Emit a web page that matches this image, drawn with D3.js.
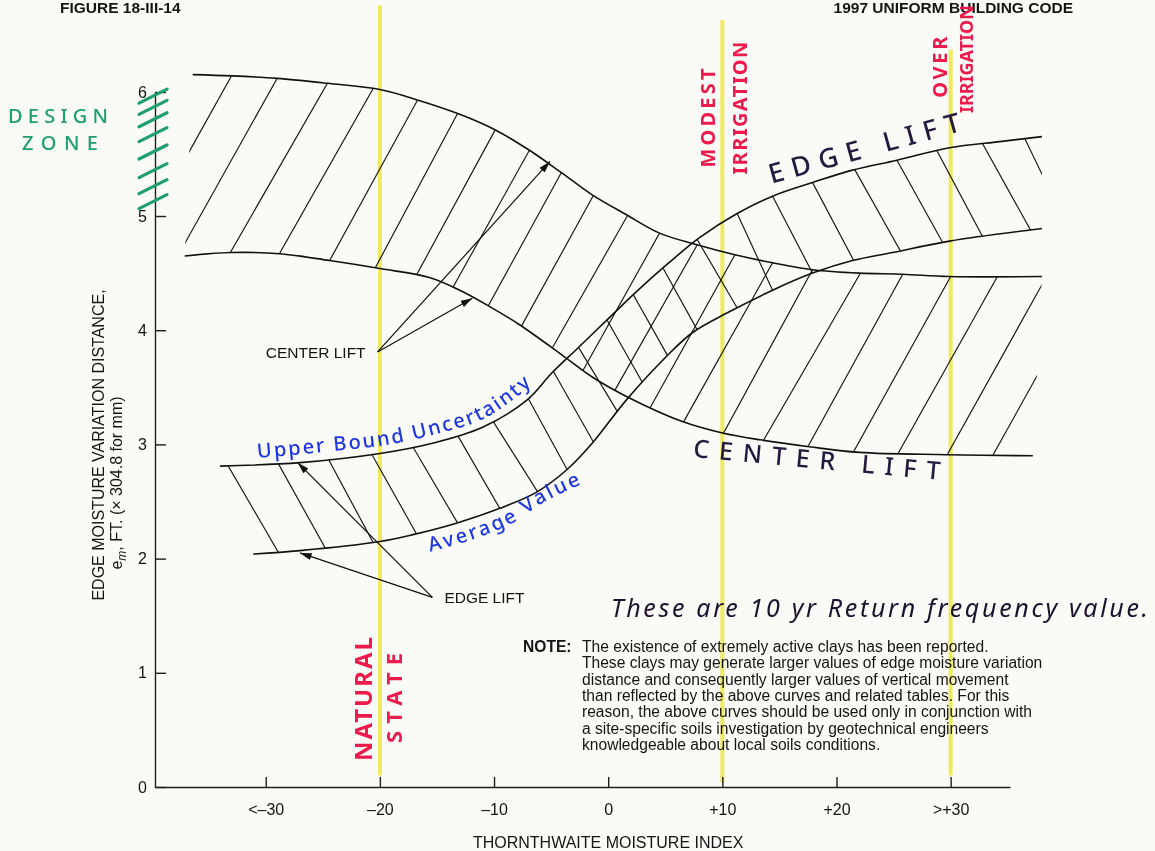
<!DOCTYPE html>
<html>
<head>
<meta charset="utf-8">
<script src="https://cdn.jsdelivr.net/npm/d3@7"></script>
<style>
  html, body { margin: 0; padding: 0; background: #fafaf6; }
  svg { display: block; }
  .print { font-family: "Liberation Sans", Arial, Helvetica, sans-serif; fill: #141414; }
  .hand { font-family: "Noto Sans", "DejaVu Sans", sans-serif; }
</style>
</head>
<body>
<svg id="chart" width="1155" height="851"></svg>
<script>
// ---- Axis ticks -------------------------------------------------------
const xTicks = [-30, -20, -10, 0, 10, 20, 30];
const xTickLabels = ["<\u201330", "\u201320", "\u201310", "0", "+10", "+20", ">+30"];
const yTicks = [0, 1, 2, 3, 4, 5, 6];

// ---- Center lift band: [Thornthwaite index, e_m (ft)] ------------------
const centerLiftUpper = [
  [-36.4, 6.14], [-33.0, 6.13], [-29.0, 6.11], [-24.6, 6.07], [-20.0, 6.02],
  [-16.5, 5.93], [-13.0, 5.82], [-9.8, 5.69], [-6.9, 5.53], [-4.1, 5.35],
  [-1.4, 5.17], [1.6, 5.01], [4.5, 4.85], [7.7, 4.75], [11.1, 4.66],
  [14.4, 4.59], [17.9, 4.53], [22.0, 4.50], [25.8, 4.49], [29.9, 4.47], [38.0, 4.47]
];
const centerLiftLower = [
  [-37.1, 4.65], [-33.1, 4.68], [-28.8, 4.67], [-24.4, 4.61], [-20.0, 4.54],
  [-15.6, 4.46], [-13.0, 4.35], [-10.6, 4.22], [-7.8, 4.05], [-4.0, 3.78],
  [-1.4, 3.59], [1.6, 3.42], [6.5, 3.20], [10.0, 3.10], [13.3, 3.04],
  [17.6, 2.98], [22.0, 2.93], [29.6, 2.91], [37.2, 2.90]
];

// ---- Edge lift band ---------------------------------------------------
const edgeLiftUpper = [
  [-34.0, 2.81], [-27.0, 2.84], [-20.0, 2.92], [-15.4, 3.01], [-11.0, 3.15],
  [-7.1, 3.39], [-4.9, 3.63], [-2.7, 3.84], [-0.1, 4.09], [2.5, 4.34],
  [5.2, 4.58], [8.0, 4.81], [11.3, 5.02], [14.4, 5.16], [17.9, 5.27],
  [21.4, 5.37], [25.3, 5.45], [29.9, 5.55], [34.3, 5.60], [38.0, 5.64]
];
const edgeLiftLower = [
  [-31.1, 2.04], [-27.0, 2.07], [-20.0, 2.15], [-17.1, 2.21], [-13.3, 2.31],
  [-9.5, 2.44], [-6.3, 2.58], [-3.6, 2.78], [-1.4, 3.01], [1.6, 3.39],
  [5.1, 3.77], [7.4, 3.98], [10.4, 4.15], [14.4, 4.35], [17.9, 4.50],
  [21.4, 4.61], [24.9, 4.68], [29.9, 4.78], [38.0, 4.89]
];

// Hatch strokes: [x on lower curve, x on upper curve] for the center lift band
const centerLiftHatch = [
  [-41.8, -33.0], [-37.7, -29.0], [-33.1, -24.6], [-28.8, -20.6], [-24.4, -16.7],
  [-20.4, -13.2], [-16.8, -9.9], [-13.6, -6.9], [-10.5, -4.1], [-7.6, -1.3],
  [-4.9, 1.7], [-2.2, 4.5], [0.6, 7.8], [3.7, 11.1], [6.6, 14.4],
  [10.1, 17.9], [13.6, 22.1], [17.5, 25.8], [21.5, 30.0], [25.4, 34.1],
  [29.7, 38.4], [33.7, 42.4]
];
// [x on upper curve, x on lower curve] for the edge lift band
const edgeLiftHatch = [
  [-33.3, -28.9], [-28.9, -24.8], [-24.5, -20.6], [-20.7, -16.8], [-17.1, -13.2],
  [-13.2, -9.5], [-10.1, -6.2], [-7.0, -3.6], [-4.8, -1.3], [-2.6, 0.8],
  [-0.1, 3.0], [2.2, 5.2], [4.8, 7.8], [7.8, 11.3], [11.3, 14.4],
  [14.4, 17.9], [17.9, 21.5], [21.6, 25.6], [25.3, 29.3], [28.8, 32.8],
  [32.8, 37.0], [36.5, 40.3]
];

// Leader arrows: label anchor -> curve
const centerLiftArrowFrom = [-20.2, 3.81];
const centerLiftArrowTo = [[-5.1, 5.44], [-11.9, 4.28]];
const edgeLiftArrowFrom = [-15.4, 1.66];
const edgeLiftArrowTo = [[-27.2, 2.84], [-27.0, 2.05]];

// Highlighted index lines and the marked design zone
const markedIndex = [
  { x: -20, y0: 0.10, y1: 6.70 },
  { x: 10, y0: 0.04, y1: 6.58 },
  { x: 30, y0: 0.10, y1: 6.34 }
];
const designZoneMarks = [5.91, 5.82, 5.72, 5.60, 5.46, 5.31, 5.18, 5.06];

// Baselines for the hand-written curve labels
const upperBoundLabelPath = [[-30.7, 2.88], [-25.2, 2.93], [-19.1, 3.00], [-14.7, 3.10], [-11.2, 3.21], [-8.6, 3.37], [-6.4, 3.55]];
const averageLabelPath = [[-15.6, 2.06], [-12.1, 2.16], [-8.4, 2.31], [-5.5, 2.50], [-2.4, 2.65]];

const noteLines = [
  "The existence of extremely active clays has been reported.",
  "These clays may generate larger values of edge moisture variation",
  "distance and consequently larger values of vertical movement",
  "than reflected by the above curves and related tables. For this",
  "reason, the above curves should be used only in conjunction with",
  "a site-specific soils investigation by geotechnical engineers",
  "knowledgeable about local soils conditions."
];

// ---- Scales -----------------------------------------------------------
const x = d3.scaleLinear().domain([-39.7, 35.2]).range([155, 1010]);
const y = d3.scaleLinear().domain([0, 5, 6]).range([787, 216, 92]);

const svg = d3.select("#chart");
const defs = svg.append("defs");

defs.append("marker")
  .attr("id", "arrowhead")
  .attr("viewBox", "0 0 10 6")
  .attr("refX", 10).attr("refY", 3)
  .attr("markerWidth", 12).attr("markerHeight", 7)
  .attr("markerUnits", "userSpaceOnUse")
  .attr("orient", "auto")
  .append("path").attr("d", "M0,0L10,3L0,6Z").attr("fill", "#111");

const curve = d3.line()
  .x(d => x(d[0])).y(d => y(d[1]))
  .curve(d3.curveCatmullRom.alpha(0.5));

function bandOutline(upper, lower) {
  const top = curve(upper);
  const bottom = curve(lower.slice().reverse());
  return top + "L" + bottom.slice(1) + "Z";
}

function valueAt(pts, xv) {
  const n = pts.length;
  if (xv <= pts[0][0]) return pts[0][1];
  if (xv >= pts[n - 1][0]) return pts[n - 1][1];
  const i = d3.bisector(d => d[0]).right(pts, xv);
  const a = pts[i - 1], b = pts[i];
  const t = (xv - a[0]) / (b[0] - a[0]);
  return a[1] + t * (b[1] - a[1]);
}

defs.append("clipPath").attr("id", "clip-center")
  .append("path").attr("d", bandOutline(centerLiftUpper, centerLiftLower));
defs.append("clipPath").attr("id", "clip-edge")
  .append("path").attr("d", bandOutline(edgeLiftUpper, edgeLiftLower));

// ---- Hatching ---------------------------------------------------------
function drawHatch(pairs, fromCurve, toCurve, clipId) {
  svg.append("g")
    .attr("clip-path", `url(#${clipId})`)
    .attr("stroke", "#141414").attr("stroke-width", 1.15)
    .selectAll("line").data(pairs).join("line")
    .each(function ([xa, xb]) {
      const x1 = x(xa), y1 = y(valueAt(fromCurve, xa));
      const x2 = x(xb), y2 = y(valueAt(toCurve, xb));
      const dx = x2 - x1, dy = y2 - y1, e = 14 / Math.hypot(dx, dy);
      d3.select(this)
        .attr("x1", x1 - dx * e).attr("y1", y1 - dy * e)
        .attr("x2", x2 + dx * e).attr("y2", y2 + dy * e);
    });
}
drawHatch(centerLiftHatch, centerLiftLower, centerLiftUpper, "clip-center");
drawHatch(edgeLiftHatch, edgeLiftUpper, edgeLiftLower, "clip-edge");

// ---- Band boundary curves --------------------------------------------
svg.append("g")
  .attr("fill", "none").attr("stroke", "#111").attr("stroke-width", 1.6)
  .selectAll("path")
  .data([centerLiftUpper, centerLiftLower, edgeLiftUpper, edgeLiftLower])
  .join("path").attr("d", curve);

// ---- Axes -------------------------------------------------------------
const xAxis = d3.axisBottom(x)
  .tickValues(xTicks)
  .tickFormat((d, i) => xTickLabels[i])
  .tickSizeInner(-10).tickSizeOuter(0).tickPadding(17);
const yAxis = d3.axisLeft(y)
  .tickValues(yTicks)
  .tickFormat(d3.format("d"))
  .tickSizeInner(-11).tickSizeOuter(0).tickPadding(8);

const gx = svg.append("g").attr("transform", `translate(0,${y(0)})`).call(xAxis);
const gy = svg.append("g").attr("transform", `translate(${x(-39.7)},0)`).call(yAxis);
[gx, gy].forEach(g => {
  g.attr("font-family", null).attr("font-size", null);
  g.selectAll("path, line").attr("stroke", "#1e1e1e").attr("stroke-width", 1.4);
  g.selectAll("text").attr("class", "print").attr("font-size", 16).attr("fill", "#141414");
});

svg.append("text").attr("class", "print")
  .attr("x", x(0)).attr("y", 848).attr("text-anchor", "middle").attr("font-size", 16)
  .text("THORNTHWAITE MOISTURE INDEX");

svg.append("text").attr("class", "print")
  .attr("transform", "translate(104,445) rotate(-90)")
  .attr("text-anchor", "middle").attr("font-size", 16)
  .text("EDGE MOISTURE VARIATION DISTANCE,");
const yl2 = svg.append("text").attr("class", "print")
  .attr("transform", "translate(122,483) rotate(-90)")
  .attr("text-anchor", "middle").attr("font-size", 16);
yl2.append("tspan").text("e");
yl2.append("tspan").attr("font-size", 12).attr("font-style", "italic").attr("dy", 4).text("m");
yl2.append("tspan").attr("dy", -4).text(", FT. (\u00d7 304.8 for mm)");

// ---- Headers ----------------------------------------------------------
svg.append("text").attr("class", "print").attr("font-weight", "bold").attr("font-size", 15.5)
  .attr("x", 60).attr("y", 12.5).text("FIGURE 18-III-14");
svg.append("text").attr("class", "print").attr("font-weight", "bold").attr("font-size", 15.5)
  .attr("x", 1073).attr("y", 12.5).attr("text-anchor", "end").text("1997 UNIFORM BUILDING CODE");

// ---- Printed leader labels -------------------------------------------
function arrows(from, targets) {
  svg.append("g").attr("stroke", "#111").attr("stroke-width", 1.2)
    .selectAll("line").data(targets).join("line")
    .attr("x1", x(from[0])).attr("y1", y(from[1]))
    .attr("x2", d => x(d[0])).attr("y2", d => y(d[1]))
    .attr("marker-end", "url(#arrowhead)");
}
arrows(centerLiftArrowFrom, centerLiftArrowTo);
arrows(edgeLiftArrowFrom, edgeLiftArrowTo);

svg.append("text").attr("class", "print").attr("font-size", 15.5)
  .attr("x", x(centerLiftArrowFrom[0]) - 12).attr("y", y(centerLiftArrowFrom[1]) + 6)
  .attr("text-anchor", "end").text("CENTER LIFT");
svg.append("text").attr("class", "print").attr("font-size", 15.5)
  .attr("x", x(edgeLiftArrowFrom[0]) + 12).attr("y", y(edgeLiftArrowFrom[1]) + 6)
  .text("EDGE LIFT");

// ---- Note -------------------------------------------------------------
const note = svg.append("g").attr("class", "print").attr("font-size", 15.6);
note.append("text").attr("x", 523).attr("y", 652).attr("font-weight", "bold").text("NOTE:");
note.selectAll("text.line").data(noteLines).join("text").attr("class", "line print")
  .attr("x", 582).attr("y", (d, i) => 652 + i * 16.3).text(d => d);

// ---- Hand-written annotations ----------------------------------------
const ink = { red: "#ec1b4c", green: "#1f9f6e", blue: "#1c36e2", dark: "#24193f" };

function handText(opts) {
  const t = svg.append("text").attr("class", "hand")
    .attr("transform", `translate(${opts.px},${opts.py}) rotate(${opts.rot || 0})`)
    .attr("fill", opts.color).attr("font-size", opts.size)
    .attr("font-weight", opts.weight || 600)
    .attr("text-anchor", opts.anchor || "start")
    .text(opts.text);
  if (opts.len) t.attr("textLength", opts.len).attr("lengthAdjust", "spacing");
  if (opts.italic) t.attr("font-style", "italic");
  return t;
}

// design zone ticks on the e_m axis
svg.append("g").attr("stroke", ink.green).attr("stroke-width", 3.2).attr("stroke-linecap", "round")
  .selectAll("line").data(designZoneMarks).join("line")
  .attr("x1", x(-41.1)).attr("y1", d => y(d))
  .attr("x2", x(-41.1) + 28).attr("y2", d => y(d) - 14);
handText({ text: "DESIGN", px: 8, py: 123, size: 20, color: ink.green, len: 100, weight: 500 });
handText({ text: "ZONE", px: 22, py: 150, size: 20, color: ink.green, len: 76, weight: 500 });

// highlighted index lines
svg.append("g").style("mix-blend-mode", "multiply")
  .selectAll("line").data(markedIndex).join("line")
  .attr("x1", d => x(d.x)).attr("x2", d => x(d.x))
  .attr("y1", d => y(d.y1)).attr("y2", d => y(d.y0))
  .attr("stroke", "#f4ee50").attr("stroke-width", 4).attr("stroke-opacity", 0.9);

handText({ text: "NATURAL", px: x(-20.7), py: y(0.77), rot: -90, anchor: "middle", size: 24, color: ink.red, len: 124, weight: 700 });
handText({ text: "STATE", px: x(-18.05), py: y(0.78), rot: -90, anchor: "middle", size: 22, color: ink.red, len: 90, weight: 700 });
handText({ text: "MODEST", px: x(9.35), py: y(5.79), rot: -90, anchor: "middle", size: 20, color: ink.red, len: 99, weight: 700 });
handText({ text: "IRRIGATION", px: x(12.15), py: y(5.87), rot: -90, anchor: "middle", size: 20, color: ink.red, len: 133, weight: 700 });
handText({ text: "OVER", px: x(29.65), py: y(6.2), rot: -90, anchor: "middle", size: 20, color: ink.red, len: 61, weight: 700 });
handText({ text: "IRRIGATION", px: x(31.95), py: y(5.83), rot: -90, anchor: "start", size: 18, color: ink.red, len: 108, weight: 700 });

handText({ text: "EDGE LIFT", px: x(14.3), py: y(5.26), rot: -15.5, size: 27, color: ink.dark, len: 198, weight: 500 });
handText({ text: "CENTER LIFT", px: x(7.4), py: y(2.89), rot: 5.3, size: 25, color: ink.dark, len: 248, weight: 500 });

// curve labels following the band edges
defs.append("path").attr("id", "upper-bound-path").attr("d", curve(upperBoundLabelPath));
defs.append("path").attr("id", "average-path").attr("d", curve(averageLabelPath));
svg.append("text").attr("class", "hand").attr("fill", ink.blue).attr("font-size", 20)
  .attr("font-weight", 500).attr("letter-spacing", 2)
  .append("textPath").attr("href", "#upper-bound-path").text("Upper Bound Uncertainty");
svg.append("text").attr("class", "hand").attr("fill", ink.blue).attr("font-size", 20)
  .attr("font-weight", 500).attr("letter-spacing", 2.5)
  .append("textPath").attr("href", "#average-path").text("Average Value");

handText({ text: "These are 10 yr Return frequency value.", px: 611, py: 617, size: 25, color: "#1c1230", len: 537, weight: 400, italic: true });
</script>
</body>
</html>
